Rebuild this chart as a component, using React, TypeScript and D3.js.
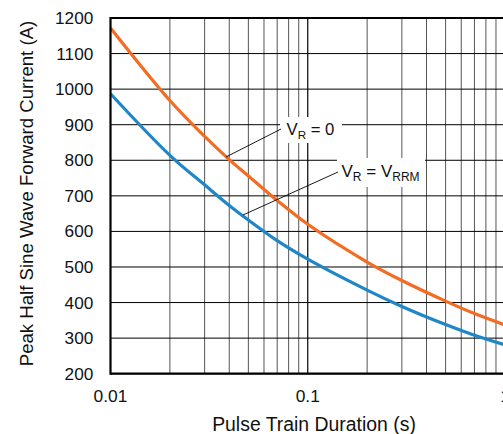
import React from "react";
import * as d3 from "d3";

const durations = [0.01, 0.02, 0.03, 0.04, 0.05, 0.07, 0.1, 0.2, 0.3, 0.5, 0.7, 1];
const currentVR0 = [1172, 968, 867, 802, 756, 687, 620, 514, 462, 404, 369, 337];
const currentVRRM = [987, 814, 731, 673, 632, 574, 522, 435, 389, 338, 308, 281];
const yTicks = [200, 300, 400, 500, 600, 700, 800, 900, 1000, 1100, 1200];
const xTickLabels = [
  { v: 0.01, t: "0.01" },
  { v: 0.1, t: "0.1" },
  { v: 1, t: "1" },
];

export default function App() {
  const W = 503, H = 434;
  const left = 110.5, right = 505, top = 18, bottom = 373.7;
  const x = d3.scaleLog().domain([0.01, 1]).range([left, right]);
  const y = d3.scaleLinear().domain([200, 1200]).range([bottom, top]);
  const minor: number[] = [];
  [0.01, 0.1].forEach((d) => {
    for (let k = 2; k <= 9; k++) minor.push(d * k);
  });
  const line = d3
    .line<number>()
    .x((_, i) => x(durations[i]))
    .y((d) => y(d))
    .curve(d3.curveCatmullRom.alpha(0.5));
  const font = "'Liberation Sans', Arial, sans-serif";
  return (
    <svg width={W} height={H} style={{ position: "absolute", left: 0, top: 0 }} fontFamily={font}>
      <rect width={W} height={H} fill="#fff" />
      {minor.map((d, i) => (
        <line key={"m" + i} x1={x(d)} x2={x(d)} y1={top} y2={bottom} stroke="#555" strokeWidth={1} />
      ))}
      <line x1={x(0.1)} x2={x(0.1)} y1={top} y2={bottom} stroke="#000" strokeWidth={1.2} />
      {yTicks.map((t) => (
        <line key={"h" + t} x1={left} x2={right} y1={y(t)} y2={y(t)} stroke="#000" strokeWidth={1} />
      ))}
      {/* label boxes */}
      <rect x={280} y={117} width={62} height={26} fill="#fff" />
      <rect x={337} y={158} width={88} height={29} fill="#fff" />
      <path d={line(currentVR0) || ""} fill="none" stroke="#f26c24" strokeWidth={3.2} />
      <path d={line(currentVRRM) || ""} fill="none" stroke="#1f86c8" strokeWidth={3.2} />
      {/* leaders */}
      <line x1={226} x2={281} y1={157} y2={129} stroke="#000" strokeWidth={0.9} />
      <line x1={243} x2={338} y1={215} y2={172} stroke="#000" strokeWidth={0.9} />
      <text x={286.5} y={134.5} fontSize={16.7} fill="#111">
        V<tspan fontSize={11.7} dy={4}>R</tspan>
        <tspan dy={-4}> = 0</tspan>
      </text>
      <text x={341.5} y={177} fontSize={17} fill="#111">
        V<tspan fontSize={12} dy={4}>R</tspan>
        <tspan dy={-4}> = V</tspan>
        <tspan fontSize={12} dy={4}>RRM</tspan>
      </text>
      {/* frame */}
      <line x1={left} x2={left} y1={top - 1} y2={bottom + 1} stroke="#000" strokeWidth={2.2} />
      <line x1={left} x2={right} y1={top} y2={top} stroke="#000" strokeWidth={2.2} />
      <line x1={left} x2={right} y1={bottom} y2={bottom} stroke="#000" strokeWidth={2.2} />
      {yTicks.map((t) => (
        <text key={"yl" + t} x={93.3} y={y(t)} dy="0.35em" textAnchor="end" fontSize={17.2} fill="#111">
          {t}
        </text>
      ))}
      {xTickLabels.map((d) => (
        <text key={"xl" + d.t} x={x(d.v)} y={401.5} textAnchor="middle" fontSize={17.4} fill="#111">
          {d.t}
        </text>
      ))}
      <text x={314} y={431} textAnchor="middle" fontSize={19.4} fill="#111">
        Pulse Train Duration (s)
      </text>
      <text
        transform={`translate(32.5,193.5) rotate(-90)`}
        textAnchor="middle"
        fontSize={18.6}
        fill="#111"
      >
        Peak Half Sine Wave Forward Current (A)
      </text>
    </svg>
  );
}
